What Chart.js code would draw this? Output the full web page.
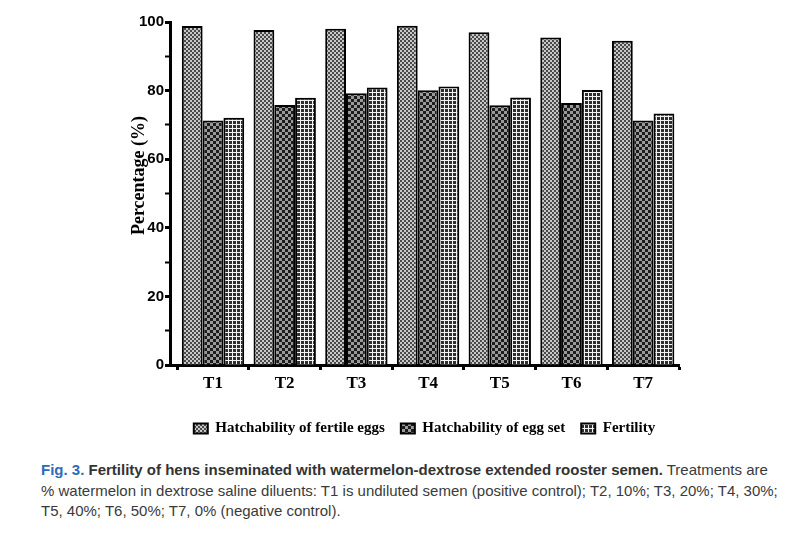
<!DOCTYPE html>
<html>
<head>
<meta charset="utf-8">
<script src="https://cdn.jsdelivr.net/npm/chart.js@4/dist/chart.umd.min.js"></script>
<style>
  html, body { margin: 0; padding: 0; background: #fff; }
  #wrap { position: relative; width: 799px; height: 538px; overflow: hidden; }
  #box { position: absolute; left: 0; top: 0; width: 799px; height: 452px; }
  #caption { position: absolute; left: 41px; top: 460px; width: 740px;
    font-family: "Liberation Sans Narrow", "Liberation Sans", Arial, sans-serif;
    font-size: 15px; line-height: 20.5px; color: #3a3a3a; }
  #caption .fig { color: #2b6db5; font-weight: bold; }
  #caption b { font-weight: bold; color: #333; }
</style>
</head>
<body>
<div id="wrap">
  <div id="box"><canvas id="c"></canvas></div>
  <div id="caption"><span class="fig">Fig. 3.</span> <b>Fertility of hens inseminated with watermelon-dextrose extended rooster semen.</b> Treatments are % watermelon in dextrose saline diluents: T1 is undiluted semen (positive control); T2, 10%; T3, 20%; T4, 30%; T5, 40%; T6, 50%; T7, 0% (negative control).</div>
</div>
<script>
const categories = ['T1', 'T2', 'T3', 'T4', 'T5', 'T6', 'T7'];
const hatchFertile = [98.8, 97.7, 98.0, 98.9, 97.0, 95.5, 94.5];
const hatchEggSet = [71.3, 75.8, 79.2, 80.1, 75.7, 76.4, 71.3];
const fertility = [72.1, 77.9, 80.9, 81.2, 78.0, 80.2, 73.3];
const seriesLabels = ['Hatchability of fertile eggs', 'Hatchability of egg set', 'Fertility'];
const yTicks = [0, 20, 40, 60, 80, 100];
const yTitle = 'Percentage (%)';

function makePattern(kind) {
  const t = document.createElement('canvas');
  let s;
  if (kind === 0) {
    s = 4; t.width = s; t.height = s;
    const g = t.getContext('2d');
    g.fillStyle = '#c8c8c8'; g.fillRect(0, 0, s, s);
    g.fillStyle = '#4a4a4a'; g.fillRect(0, 0, 2, 2); g.fillRect(2, 2, 2, 2);
  } else if (kind === 1) {
    s = 6; t.width = s; t.height = s;
    const g = t.getContext('2d');
    g.fillStyle = '#9a9a9a'; g.fillRect(0, 0, s, s);
    g.fillStyle = '#1c1c1c'; g.fillRect(0, 0, 3, 3); g.fillRect(3, 3, 3, 3);
  } else {
    s = 4; t.width = s; t.height = s;
    const g = t.getContext('2d');
    g.fillStyle = '#2e2e2e'; g.fillRect(0, 0, s, s);
    g.fillStyle = '#f4f4f4'; g.fillRect(0, 0, 1, s); g.fillRect(0, 0, s, 1);
  }
  const ctx = document.getElementById('c').getContext('2d');
  return ctx.createPattern(t, 'repeat');
}

const seriesValues = [hatchFertile, hatchEggSet, fertility];
const datasets = seriesValues.map((vals, k) => ({
  label: seriesLabels[k],
  data: vals.map((v, i) => ({ x: i, y: v })),
  backgroundColor: makePattern(k),
  borderColor: '#000',
  borderWidth: 2,
  categoryPercentage: 0.87,
  barPercentage: 1.0
}));

new Chart(document.getElementById('c'), {
  type: 'bar',
  data: { datasets },
  options: {
    responsive: true,
    maintainAspectRatio: false,
    animation: false,
    layout: { padding: { top: 22, right: 120, left: 126, bottom: 6 } },
    plugins: {
      tooltip: { enabled: false },
      legend: {
        position: 'bottom',
        fullSize: false,
        labels: {
          color: '#000',
          boxWidth: 14,
          boxHeight: 10,
          padding: 16,
          font: { family: '"Liberation Serif", "Times New Roman", serif', size: 15, weight: 'bold' }
        }
      }
    },
    scales: {
      x: {
        type: 'linear',
        min: -0.6,
        max: 6.5,
        offset: false,
        afterBuildTicks: (sc) => { sc.ticks = categories.map((c, i) => ({ value: i })); },
        afterFit: (sc) => { sc.height = 40; },
        ticks: {
          includeBounds: false,
          autoSkip: false,
          maxRotation: 0,
          color: '#000',
          padding: 3,
          font: { family: '"Liberation Serif", "Times New Roman", serif', size: 17, weight: 'bold' },
          callback: (v) => categories[v] ?? ''
        },
        grid: { drawOnChartArea: false, drawTicks: true, tickLength: 5, tickWidth: 3, tickColor: '#000' },
        border: { display: true, color: '#000', width: 3 }
      },
      y: {
        min: 0,
        max: 100,
        afterBuildTicks: (sc) => {
          const t = [];
          for (let v = 0; v <= 100; v += 10) t.push({ value: v });
          sc.ticks = t;
        },
        afterFit: (sc) => { sc.width = 44; },
        ticks: {
          color: '#000',
          padding: 1,
          font: { family: '"Liberation Sans", Arial, sans-serif', size: 15, weight: 'bold' },
          callback: (v) => yTicks.includes(v) ? String(v) : ''
        },
        grid: {
          drawOnChartArea: false, drawTicks: true, tickLength: 5, tickColor: '#000',
          tickWidth: (ctx) => (ctx.tick && ctx.tick.value % 20 === 0) ? 3 : 2
        },
        border: { display: true, color: '#000', width: 3 },
        title: {
          display: true,
          text: '\u2003\u2003' + yTitle,
          color: '#000',
          padding: { top: 3, bottom: 0 },
          font: { family: '"Liberation Serif", "Times New Roman", serif', size: 18, weight: 'bold' }
        }
      }
    }
  }
});
</script>
</body>
</html>
